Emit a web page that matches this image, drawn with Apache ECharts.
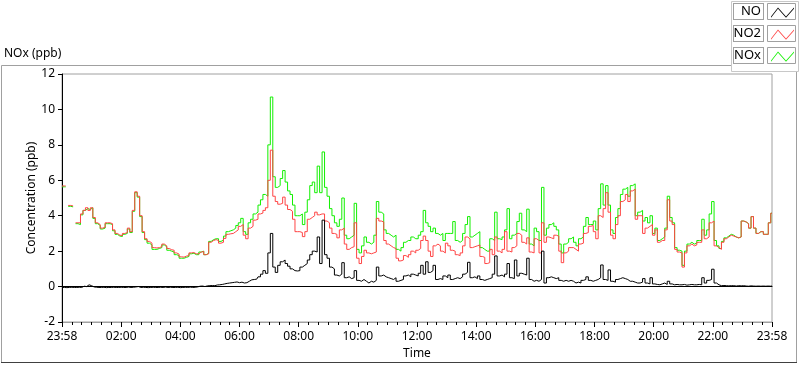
<!DOCTYPE html>
<html>
<head>
<meta charset="utf-8">
<script src="https://cdn.jsdelivr.net/npm/echarts@6/dist/echarts.min.js"></script>
<style>
html,body{margin:0;padding:0;background:#fff;}
#chart{width:800px;height:365px;}
</style>
</head>
<body>
<div id="chart"></div>
<script>
// Sampling step (minutes) of the readings below; first sample at 23:58
const stepMinutes = 5;
const seriesNames = ['NO', 'NO2', 'NOx'];
const xTickMinutes = [0, 120, 240, 360, 480, 600, 720, 840, 960, 1080, 1200, 1320, 1440];
const xTickLabels = ['23:58', '02:00', '04:00', '06:00', '08:00', '10:00', '12:00', '14:00', '16:00', '18:00', '20:00', '22:00', '23:58'];

const noValues = [
-0.05,-0.05,-0.06,-0.05,-0.04,-0.05,-0.05,-0.04,-0.05,0.02,0.0,0.1,0.05,-0.02,-0.04,-0.05,-0.05,-0.04,-0.06,-0.05,
-0.05,-0.04,-0.05,-0.05,-0.04,-0.05,-0.05,-0.03,-0.05,-0.04,-0.02,0.0,-0.05,-0.04,-0.05,-0.06,-0.05,-0.04,-0.05,-0.05,
-0.04,-0.05,-0.03,-0.05,-0.04,-0.05,-0.05,-0.04,-0.06,-0.05,-0.04,-0.05,-0.03,-0.05,-0.04,-0.02,0.02,0.03,0.0,0.04,
0.05,0.06,0.05,0.09,0.1,0.12,0.15,0.18,0.2,0.22,0.24,0.26,0.22,0.25,0.2,0.22,0.3,0.38,0.4,0.42,
0.55,0.7,0.9,0.75,1.9,3.0,1.1,0.8,1.2,1.4,1.5,1.3,1.15,1.0,0.9,0.88,0.9,1.1,1.2,1.3,
1.5,1.8,2.0,1.95,2.8,1.3,3.75,1.8,1.6,1.1,1.0,0.65,0.6,0.7,1.35,0.5,0.55,0.45,0.5,0.9,
0.35,0.3,0.4,0.3,0.2,0.3,0.25,0.35,1.1,0.6,0.65,0.55,0.5,0.45,0.4,0.5,0.3,0.35,0.4,0.6,
0.65,0.55,0.7,0.65,0.6,0.75,1.2,0.7,1.4,0.8,0.9,1.2,0.4,0.45,0.4,0.6,0.5,0.65,0.4,0.45,
0.5,0.45,0.55,0.7,0.8,1.37,0.5,0.55,0.45,0.6,0.4,0.35,0.4,0.45,0.5,0.7,1.73,0.6,0.65,0.55,
0.7,1.3,0.5,0.45,1.5,0.6,0.75,0.7,0.65,1.6,0.4,0.3,0.35,0.3,0.4,2.0,0.2,0.5,0.55,0.5,
0.45,0.5,0.35,0.3,0.35,0.3,0.35,0.3,0.2,0.25,0.2,0.35,0.4,0.55,0.35,0.3,0.35,0.4,0.5,1.22,
0.4,0.35,0.94,0.3,0.25,0.4,0.45,0.5,0.45,0.4,0.3,0.3,0.25,0.2,0.2,0.25,0.45,0.2,0.15,0.5,
0.15,0.12,0.1,0.15,0.2,0.12,0.3,0.15,0.1,0.12,0.1,0.1,0.12,0.08,0.1,0.12,0.1,0.1,0.12,0.1,
0.5,0.2,0.35,0.4,0.98,0.2,0.1,0.05,0.06,0.05,0.04,0.05,0.05,0.03,0.05,0.04,0.05,0.03,0.02,0.04,
0.03,0.02,0.03,0.02,0.03,0.02,0.03,0.02,0.03
];

const no2Values = [
5.68,5.68,null,4.58,4.55,null,3.6,3.6,4.1,4.3,4.45,4.3,4.45,3.9,3.6,3.5,3.3,3.35,3.6,3.6,
3.55,3.2,3.0,2.9,2.88,3.0,3.05,3.3,3.1,4.3,5.35,5.1,4.0,3.1,2.7,2.55,2.45,2.2,2.18,2.2,
2.25,2.4,2.3,2.15,2.08,2.05,1.9,1.83,1.68,1.66,1.72,1.75,1.9,1.92,1.85,1.85,1.95,1.98,1.8,1.85,
2.5,2.6,2.65,2.6,2.45,2.5,2.72,2.95,2.98,3.0,3.1,3.2,3.4,3.5,2.9,2.7,3.3,3.4,3.75,3.8,
4.1,4.15,4.3,4.45,6.0,7.7,5.1,4.8,4.65,4.7,5.05,4.6,4.35,4.25,3.8,3.1,3.1,3.05,2.82,3.1,
3.8,3.9,4.0,4.2,4.05,4.1,4.1,3.7,3.6,3.3,3.0,2.95,2.75,3.2,3.3,2.4,2.1,2.2,2.25,3.6,
1.6,1.3,1.7,2.05,1.9,1.85,1.9,1.95,3.85,3.7,3.65,2.6,2.4,2.3,2.2,2.15,1.6,1.45,1.5,1.75,
1.65,1.8,2.0,1.9,2.05,2.15,2.6,2.85,2.6,2.0,1.7,2.3,2.4,2.3,2.0,1.9,2.45,2.3,2.05,2.0,
1.8,1.75,1.9,2.3,2.8,2.7,2.2,2.25,2.3,2.35,1.7,1.65,1.3,1.35,2.1,1.8,2.8,2.0,1.9,2.1,
3.1,2.0,1.95,2.2,2.3,3.0,2.9,2.5,2.4,2.75,1.95,1.9,2.7,2.6,1.9,3.6,2.5,2.8,2.75,2.7,
2.9,2.85,2.0,1.35,1.9,2.0,2.2,2.2,2.1,2.0,2.4,2.45,3.0,3.05,3.4,3.45,3.1,2.7,4.0,3.9,
4.4,5.3,4.2,2.9,2.7,3.5,4.0,4.8,4.9,5.2,4.8,5.4,5.5,3.8,4.0,4.0,3.0,3.3,3.4,3.5,
2.9,3.2,2.5,2.6,2.6,3.2,4.9,3.7,3.5,2.1,1.95,1.9,1.1,1.9,2.3,2.4,2.3,2.35,2.5,2.5,
3.2,2.7,2.8,3.6,3.7,2.3,2.2,2.1,2.5,2.7,2.8,2.9,2.85,2.8,2.75,2.8,3.7,3.65,3.55,3.3,
3.95,3.3,3.0,3.1,3.1,2.95,2.95,3.6,4.14
];

const noxValues = [
5.63,5.63,null,4.53,4.5,null,3.55,3.5,4.05,4.3,4.4,4.35,4.45,3.85,3.55,3.45,3.25,3.3,3.55,3.55,
3.5,3.15,2.95,2.85,2.83,2.95,3.0,3.25,3.05,4.25,5.3,5.05,3.95,3.05,2.65,2.45,2.35,2.1,2.1,2.15,
2.2,2.35,2.25,2.05,2.0,1.95,1.8,1.75,1.6,1.6,1.65,1.7,1.85,1.88,1.8,1.8,1.95,2.0,1.8,1.88,
2.55,2.65,2.7,2.7,2.55,2.62,2.85,3.1,3.15,3.2,3.3,3.45,3.6,3.85,3.1,2.95,3.6,3.8,4.1,4.2,
4.6,4.9,5.2,5.1,8.0,10.7,6.2,5.6,5.7,6.1,6.55,5.9,5.4,5.2,4.6,4.0,4.0,4.1,3.5,4.2,
4.9,5.7,5.9,5.3,6.8,5.3,7.6,5.6,5.1,4.4,4.0,3.6,3.4,3.8,5.0,2.9,2.7,2.8,2.9,4.7,
2.1,1.9,2.3,2.8,2.5,2.4,2.5,2.9,4.8,4.2,4.1,3.2,3.0,2.9,2.8,2.9,2.1,2.0,2.2,2.5,
2.6,2.6,2.8,2.7,2.7,2.9,3.1,4.3,3.6,3.4,3.1,3.3,3.0,2.9,3.0,2.6,3.0,3.0,3.0,3.67,
2.6,2.5,2.6,3.0,3.5,3.95,2.8,2.9,3.0,3.1,2.2,2.1,2.0,2.0,2.7,2.6,4.2,2.7,2.65,2.8,
3.2,4.4,2.7,2.9,3.0,3.67,4.14,3.2,3.1,4.37,2.4,2.3,3.3,3.1,2.6,5.6,2.9,3.3,3.5,3.6,
3.4,3.2,2.4,1.9,2.4,2.5,2.7,2.8,2.5,2.3,2.7,2.8,3.4,3.9,3.5,3.5,3.7,3.2,4.4,5.8,
4.6,5.7,4.6,3.2,3.0,3.9,4.4,5.2,5.5,5.6,5.1,5.7,5.8,4.0,4.2,4.3,3.7,3.9,3.6,4.0,
3.0,3.3,2.6,2.7,2.8,3.3,5.1,3.9,3.6,2.2,2.05,2.0,1.2,2.0,2.4,2.5,2.4,2.45,2.6,2.6,
3.8,2.9,3.2,4.1,4.8,2.6,2.3,2.15,2.55,2.75,2.85,2.95,2.9,2.8,2.75,2.8,3.7,3.65,3.55,3.3,
3.95,3.3,3.0,3.1,3.1,2.95,2.95,3.6,4.14
];

function pairs(values) {
  return values.map(function (v, i) { return [i * stepMinutes, v]; });
}

const colors = { NO: '#000000', NO2: '#ff4444', NOx: '#12f000' };
const seriesValues = { NO: noValues, NO2: no2Values, NOx: noxValues };

const zig = 'path://M0,0L0.01,0L0,0.01ZM28,16L27.99,16L28,15.99ZM3,13L10,4L18,13L26,4L26,5.3L18,14.3L10,5.3L3,14.3Z';

const chart = echarts.init(document.getElementById('chart'), null, { renderer: 'canvas' });
const font = 'Noto Sans';

const option = {
  animation: false,
  backgroundColor: '#ffffff',
  title: {
    text: 'NOx (ppb)', left: 4, top: 48, padding: 0,
    textStyle: { fontFamily: font, fontSize: 12, fontWeight: 'normal', color: '#000' }
  },
  legend: {
    orient: 'vertical', right: 4, top: 3, itemGap: 5, padding: 0,
    itemWidth: 28, itemHeight: 16, align: 'right',
    icon: zig,
    itemStyle: { borderWidth: 0 },
    textStyle: {
      fontFamily: font, fontSize: 13, color: '#000',
      width: 25, lineHeight: 13, padding: [1, 2, 1, 2],
      borderColor: '#a0a0a0', borderWidth: 1, backgroundColor: '#fff'
    },
    selectedMode: false
  },
  graphic: [
    { type: 'rect', shape: { x: 1.5, y: 65.5, width: 795, height: 297 }, style: { fill: 'none', stroke: '#a0a0a0', lineWidth: 1 }, z: -1 },
    { type: 'line', shape: { x1: 1, y1: 362.5, x2: 797, y2: 362.5 }, style: { stroke: '#404040', lineWidth: 1 }, z: -1 },
    { type: 'rect', shape: { x: 731.5, y: 1.5, width: 67, height: 70 }, style: { fill: '#fff', stroke: '#c8c8c8', lineWidth: 1 }, z: 0 },
    { type: 'rect', shape: { x: 767.5, y: 3.5, width: 28, height: 16 }, style: { fill: 'none', stroke: '#a0a0a0', lineWidth: 1 }, z: 10 },
    { type: 'rect', shape: { x: 767.5, y: 25.5, width: 28, height: 16 }, style: { fill: 'none', stroke: '#a0a0a0', lineWidth: 1 }, z: 10 },
    { type: 'rect', shape: { x: 767.5, y: 47.5, width: 28, height: 16 }, style: { fill: 'none', stroke: '#a0a0a0', lineWidth: 1 }, z: 10 }
  ],
  grid: { left: 62, right: 28, top: 74, bottom: 43, show: true, borderColor: '#a0a0a0', borderWidth: 1, backgroundColor: '#fff' },
  xAxis: [{
    type: 'value', min: 0, max: 1440, interval: 120,
    name: 'Time', nameLocation: 'middle', nameGap: 25,
    nameTextStyle: { fontFamily: font, fontSize: 12, color: '#000' },
    axisLine: { show: true, onZero: false, lineStyle: { color: '#a0a0a0' } },
    axisTick: { show: true, length: 5, lineStyle: { color: '#000' } },
    minorTick: { show: true, splitNumber: 6, length: 3, lineStyle: { color: '#000' } },
    splitLine: { show: false },
    axisLabel: {
      fontFamily: font, fontSize: 12, color: '#000', margin: 9,
      formatter: function (v) { const k = xTickMinutes.indexOf(v); return k >= 0 ? xTickLabels[k] : ''; }
    }
  }, {
    type: 'value', min: 0, max: 1440, position: 'top',
    axisLine: { show: true, lineStyle: { color: '#000' } },
    axisTick: { show: false }, axisLabel: { show: false }, splitLine: { show: false }
  }],
  yAxis: {
    type: 'value', min: -2, max: 12, interval: 2,
    name: 'Concentration (ppb)', nameLocation: 'middle', nameGap: 24, nameMoveOverlap: false,
    nameTextStyle: { fontFamily: font, fontSize: 12, color: '#000' },
    axisLine: { show: true, lineStyle: { color: '#000' } },
    axisTick: { show: true, length: 4, lineStyle: { color: '#000' } },
    splitLine: { show: false },
    axisLabel: { fontFamily: font, fontSize: 12, color: '#000', margin: 7 }
  },
  series: ['NOx', 'NO2', 'NO'].map(function (n) {
    return {
      name: n, type: 'line', data: pairs(seriesValues[n]),
      showSymbol: false, symbol: 'none', connectNulls: false, step: 'middle',
      lineStyle: { color: colors[n], width: 1 }, itemStyle: { color: colors[n] },
      emphasis: { disabled: true }
    };
  })
};
option.legend.data = seriesNames.map(function (n) { return { name: n, icon: zig }; });
chart.setOption(option);
</script>
</body>
</html>
